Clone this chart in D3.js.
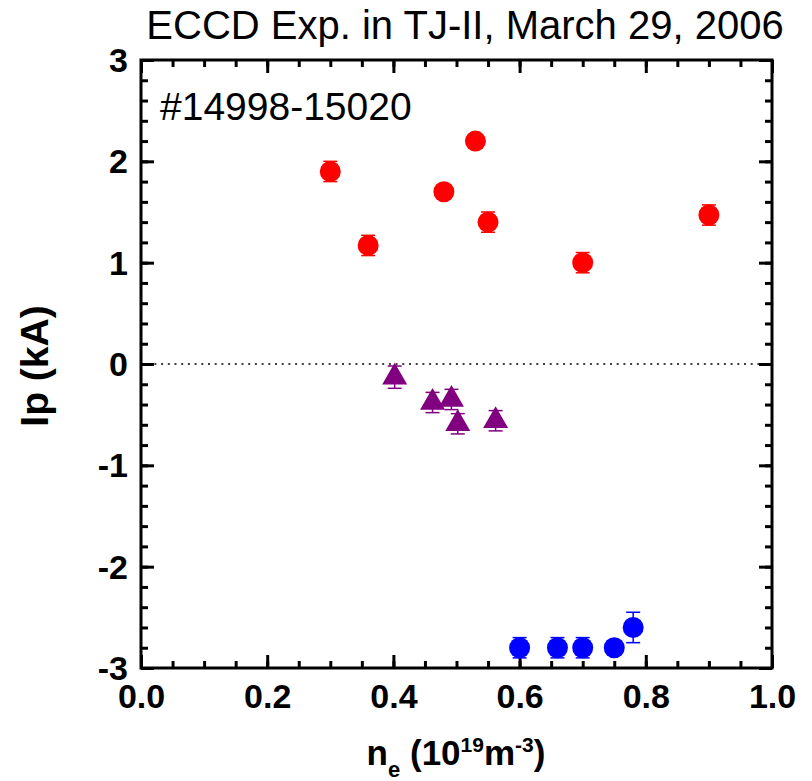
<!DOCTYPE html>
<html>
<head>
<meta charset="utf-8">
<script src="https://cdn.jsdelivr.net/npm/d3@7"></script>
<style>
  html, body { margin: 0; padding: 0; background: #fff; }
  svg { display: block; font-family: Arial, "Liberation Sans", Helvetica, sans-serif; }
</style>
</head>
<body>
<div id="chart"></div>
<script>
// ── data ──────────────────────────────────────────────
const redX   = [0.30, 0.36, 0.48, 0.53, 0.55, 0.70, 0.90];
const redY   = [1.90, 1.17, 1.70, 2.20, 1.40, 1.00, 1.47];
const redErr = [0.10, 0.10, 0.05, 0.05, 0.10, 0.10, 0.10];

const purpleX   = [0.402, 0.462, 0.492, 0.502, 0.562];
const purpleY   = [-0.13, -0.38, -0.35, -0.59, -0.56];
const purpleErr = [0.11, 0.10, 0.10, 0.10, 0.10];

const blueX   = [0.60, 0.66, 0.70, 0.75, 0.78];
const blueY   = [-2.80, -2.80, -2.80, -2.80, -2.60];
const blueErr = [0.10, 0.10, 0.10, 0.05, 0.15];

const xTicks = [0, 0.2, 0.4, 0.6, 0.8, 1.0];
const xTickLabels = ['0.0', '0.2', '0.4', '0.6', '0.8', '1.0'];
const yTicks = [-3, -2, -1, 0, 1, 2, 3];
const yTickLabels = ['-3', '-2', '-1', '0', '1', '2', '3'];

const TITLE = 'ECCD Exp. in TJ-II, March 29, 2006';
const SHOTS = '#14998-15020';

// ── layout ────────────────────────────────────────────
const W = 812, H = 781;
const M = { left: 141, right: 40, top: 60, bottom: 113 };
const iw = W - M.left - M.right;
const ih = H - M.top - M.bottom;

const svg = d3.select('#chart').append('svg')
  .attr('width', W).attr('height', H);

const x = d3.scaleLinear().domain([0, 1]).range([0, iw]);
const y = d3.scaleLinear().domain([-3, 3]).range([ih, 0]);

const g = svg.append('g').attr('transform', `translate(${M.left},${M.top})`);

// title
svg.append('text')
  .attr('x', 465).attr('y', 39)
  .attr('text-anchor', 'middle')
  .style('font-size', '40px')
  .text(TITLE);

// ── axes (ticks pointing inward on all sides) ─────────
const xMinor = d3.range(0, 1.0001, 0.05);
const yMinor = d3.range(-3, 3.0001, 0.2);

function styleAxis(sel) {
  sel.select('.domain').remove();
  sel.selectAll('line').attr('stroke', '#000').attr('stroke-width', 3);
}

// minor ticks
g.append('g').call(d3.axisBottom(x).tickValues(xMinor).tickSize(-7).tickFormat(''))
  .attr('transform', `translate(0,${ih})`).call(styleAxis);
g.append('g').call(d3.axisTop(x).tickValues(xMinor).tickSize(-7).tickFormat(''))
  .call(styleAxis);
g.append('g').call(d3.axisLeft(y).tickValues(yMinor).tickSize(-7).tickFormat(''))
  .call(styleAxis);
g.append('g').call(d3.axisRight(y).tickValues(yMinor).tickSize(-7).tickFormat(''))
  .attr('transform', `translate(${iw},0)`).call(styleAxis);

// major ticks + labels
const xAxis = g.append('g')
  .attr('transform', `translate(0,${ih})`)
  .call(d3.axisBottom(x).tickValues(xTicks).tickSize(-13)
    .tickFormat((d, i) => xTickLabels[i]))
  .call(styleAxis);
xAxis.selectAll('text')
  .attr('y', 40).attr('dy', null)
  .attr('fill', '#000')
  .style('font-size', '34px').style('font-weight', 'bold');

const yAxis = g.append('g')
  .call(d3.axisLeft(y).tickValues(yTicks).tickSize(-13).tickPadding(13)
    .tickFormat((d, i) => yTickLabels[i]))
  .call(styleAxis);
yAxis.selectAll('text')
  .attr('dy', '0.34em')
  .attr('fill', '#000')
  .style('font-size', '34px').style('font-weight', 'bold');

g.append('g').call(d3.axisTop(x).tickValues(xTicks).tickSize(-13).tickFormat(''))
  .call(styleAxis);
g.append('g').call(d3.axisRight(y).tickValues(yTicks).tickSize(-13).tickFormat(''))
  .attr('transform', `translate(${iw},0)`).call(styleAxis);

// frame
g.append('rect')
  .attr('width', iw).attr('height', ih)
  .attr('fill', 'none').attr('stroke', '#000').attr('stroke-width', 3);

// zero line
g.append('line')
  .attr('x1', x(0)).attr('x2', x(1))
  .attr('y1', y(0)).attr('y2', y(0))
  .attr('stroke', '#000').attr('stroke-width', 1.5)
  .attr('stroke-dasharray', '2,4.7');

// ── series ────────────────────────────────────────────
function drawErr(xs, ys, es, color) {
  const rows = xs.map((v, i) => ({ x: v, y: ys[i], e: es[i] }));
  const eg = g.append('g').attr('stroke', color).attr('stroke-width', 1.5);
  eg.selectAll('.v').data(rows).join('line')
    .attr('x1', d => x(d.x)).attr('x2', d => x(d.x))
    .attr('y1', d => y(d.y - d.e)).attr('y2', d => y(d.y + d.e));
  for (const s of [-1, 1]) {
    eg.selectAll(null).data(rows).join('line')
      .attr('x1', d => x(d.x) - 7).attr('x2', d => x(d.x) + 7)
      .attr('y1', d => y(d.y + s * d.e)).attr('y2', d => y(d.y + s * d.e));
  }
  return rows;
}

const redRows = drawErr(redX, redY, redErr, '#ff0000');
g.append('g').selectAll('circle').data(redRows).join('circle')
  .attr('cx', d => x(d.x)).attr('cy', d => y(d.y))
  .attr('r', 10.5).attr('fill', '#ff0000');

const blueRows = drawErr(blueX, blueY, blueErr, '#0000ff');
g.append('g').selectAll('circle').data(blueRows).join('circle')
  .attr('cx', d => x(d.x)).attr('cy', d => y(d.y))
  .attr('r', 10.5).attr('fill', '#0000ff');

const purpleRows = drawErr(purpleX, purpleY, purpleErr, '#800080');
const tri = d3.symbol().type(d3.symbolTriangle).size(270);
g.append('g').selectAll('path').data(purpleRows).join('path')
  .attr('d', tri)
  .attr('transform', d => `translate(${x(d.x)},${y(d.y)})`)
  .attr('fill', '#800080');

// ── labels ────────────────────────────────────────────
svg.append('text')
  .attr('x', 160).attr('y', 120)
  .style('font-size', '39px')
  .text(SHOTS);

svg.append('text')
  .attr('transform', 'translate(48,366) rotate(-90)')
  .attr('text-anchor', 'middle')
  .style('font-size', '39px').style('font-weight', 'bold')
  .text('Ip (kA)');

const xl = svg.append('text')
  .attr('x', 456).attr('y', 765)
  .attr('text-anchor', 'middle')
  .style('font-size', '35px').style('font-weight', 'bold');
xl.append('tspan').text('n');
xl.append('tspan').attr('dy', 12).style('font-size', '22px').text('e');
xl.append('tspan').attr('dy', -12).text(' (10');
xl.append('tspan').attr('dy', -13).style('font-size', '21px').text('19');
xl.append('tspan').attr('dy', 13).text('m');
xl.append('tspan').attr('dy', -13).style('font-size', '21px').text('-3');
xl.append('tspan').attr('dy', 13).text(')');
</script>
</body>
</html>
